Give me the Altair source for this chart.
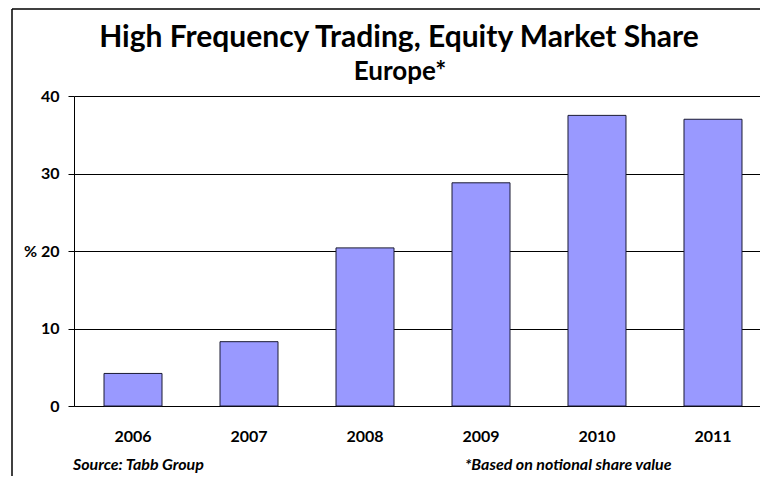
import altair as alt
import pandas as pd

years = ["2006", "2007", "2008", "2009", "2010", "2011"]
share = [4.2, 8.3, 20.4, 28.8, 37.5, 37.0]
y_ticks = [0, 10, 20, 30, 40]
title_text = "High Frequency Trading, Equity Market Share"
subtitle_text = "Europe*"
note_left = "Source: Tabb Group"
note_right = "*Based on notional share value"

df = pd.DataFrame({"year": years, "share": share})

W, H = 686, 310
FONT = "Lato"

bars = alt.Chart(df).mark_bar(color="#9999FF", stroke="#1a1a33", strokeWidth=1).encode(
    x=alt.X(
        "year:N",
        sort=years,
        scale=alt.Scale(paddingInner=0.5, paddingOuter=0.2069, align=0.625),
        axis=alt.Axis(
            title=None, labelAngle=0, ticks=False, domainColor="black", domainWidth=1,
            labelPadding=22, labelFont=FONT, labelFontSize=16, labelFontWeight="bold",
            labelColor="black", grid=False,
        ),
    ),
    y=alt.Y(
        "share:Q",
        scale=alt.Scale(domain=[0, 40], nice=False),
        axis=alt.Axis(
            values=y_ticks, title=None,
            labelExpr="datum.value == 20 ? '% 20' : datum.label",
            labelLimit=200,
            grid=True, gridColor="black", gridWidth=1, gridOpacity=1,
            tickColor="black", tickSize=6, domainColor="black",
            labelPadding=9, labelFont=FONT, labelFontSize=16, labelFontWeight="bold",
            labelColor="black",
        ),
    ),
)

base = alt.Chart(pd.DataFrame({"k": [0]}))

frame_left = base.mark_rule(color="black", strokeWidth=1.5).encode(
    x=alt.value(-62), y=alt.value(-87), y2=alt.value(H + 80)
)
frame_top = base.mark_rule(color="black", strokeWidth=1.5).encode(
    x=alt.value(-62), x2=alt.value(W + 20), y=alt.value(-87)
)

title = base.mark_text(
    text=title_text, font=FONT, fontSize=30, fontWeight="bold", color="black",
    align="center", baseline="alphabetic",
).encode(x=alt.value(325), y=alt.value(-49))

subtitle = base.mark_text(
    text=subtitle_text, font=FONT, fontSize=26, fontWeight="bold", color="black",
    align="center", baseline="alphabetic",
).encode(x=alt.value(326), y=alt.value(-16))

n1 = base.mark_text(
    text=note_left, font=FONT, fontSize=16, fontWeight="bold", fontStyle="italic",
    color="black", align="left", baseline="middle",
).encode(x=alt.value(-1), y=alt.value(369))

n2 = base.mark_text(
    text=note_right, font=FONT, fontSize=16, fontWeight="bold", fontStyle="italic",
    color="black", align="left", baseline="middle",
).encode(x=alt.value(391), y=alt.value(369))

chart = alt.layer(bars, frame_left, frame_top, title, subtitle, n1, n2).properties(
    width=W, height=H,
    autosize=alt.AutoSizeParams(type="none"),
    padding={"left": 66, "top": 88, "right": 0, "bottom": 70},
    background="white",
).configure_view(stroke=None)

chart.save("out.html", embed_options={"renderer": "svg", "actions": False})
